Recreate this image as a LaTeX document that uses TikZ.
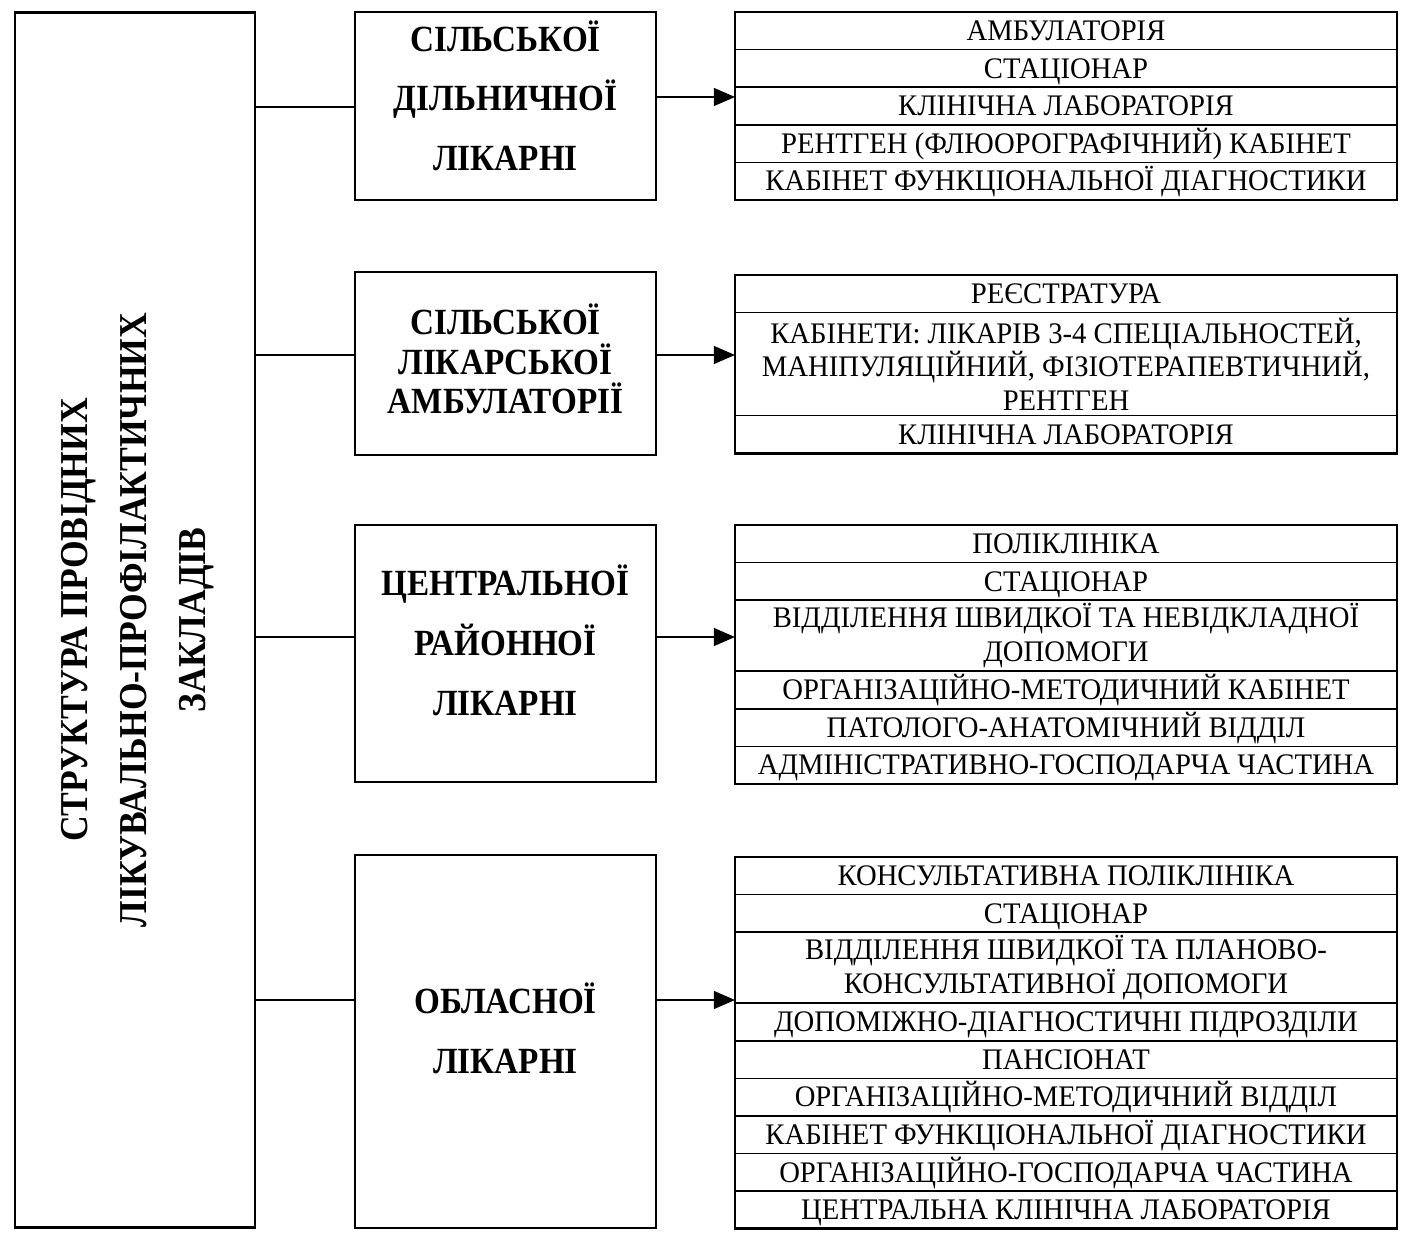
\documentclass[tikz,border=0pt]{standalone}
\usepackage{fontspec}
\usepackage{graphicx}
\setmainfont{Liberation Serif}
\newfontfamily\headfont[FakeStretch=0.9]{Liberation Serif}
\newfontfamily\listfont[FakeStretch=0.96]{Liberation Serif}
\usetikzlibrary{arrows.meta, positioning}

\tikzset{
  bigbox/.style={draw, line width=1.6pt, minimum width=4.8cm, minimum height=24.32cm, inner sep=0pt, outer sep=0pt},
  hospbox/.style={draw, line width=1.6pt, minimum width=6.02cm, align=center, inner sep=0pt, outer sep=0pt, font=\headfont\bfseries},
  row/.style={draw, line width=0.9pt, minimum width=13.24cm, minimum height=0.752cm, align=center, inner sep=0pt, outer sep=0pt,
    text height=11pt, text depth=0pt, font=\listfont\fontsize{17}{19}\selectfont},
  multi/.style={text height={}, text depth={}},
  frame/.style={line width=1.6pt},
  conn/.style={line width=1.3pt},
  arr/.style={line width=1.3pt, -{Triangle[length=12pt, width=10pt]}}
}

\begin{document}
\begin{tikzpicture}[x=0.02cm, y=-0.02cm]
\useasboundingbox (0,0) rectangle (1403,1236);
% main block
\node[bigbox] (main) at (135,620) {\rotatebox{90}{\headfont\bfseries\fontsize{22.5}{33.5}\selectfont
  \begin{tabular}{c}СТРУКТУРА ПРОВІДНИХ\\ ЛІКУВАЛЬНО-ПРОФІЛАКТИЧНИХ\\ ЗАКЛАДІВ\end{tabular}}};
% hospitals
\node[hospbox, minimum height=3.76cm, text depth=12pt, font=\headfont\bfseries\fontsize{21}{34}\selectfont] (hosp1) at (505.5,106) {СІЛЬСЬКОЇ\\ ДІЛЬНИЧНОЇ\\ ЛІКАРНІ};
\node[hospbox, minimum height=3.66cm, text depth=5pt, font=\headfont\bfseries\fontsize{21}{22.5}\selectfont] (hosp2) at (505.5,363.5) {СІЛЬСЬКОЇ\\ ЛІКАРСЬКОЇ\\ АМБУЛАТОРІЇ};
\node[hospbox, minimum height=5.14cm, text depth=15pt, font=\headfont\bfseries\fontsize{21}{34}\selectfont] (hosp3) at (505.5,653.5) {ЦЕНТРАЛЬНОЇ\\ РАЙОННОЇ\\ ЛІКАРНІ};
\node[hospbox, minimum height=7.46cm, text depth=15pt, font=\headfont\bfseries\fontsize{21}{34}\selectfont] (hosp4) at (505.5,1041.5) {ОБЛАСНОЇ\\ ЛІКАРНІ};
% list 1
\node[row, anchor=north] (a1) at (1066,12) {АМБУЛАТОРІЯ};
\node[row, below=0pt of a1] (a2) {СТАЦІОНАР};
\node[row, below=0pt of a2] (a3) {КЛІНІЧНА ЛАБОРАТОРІЯ};
\node[row, below=0pt of a3] (a4) {РЕНТГЕН (ФЛЮОРОГРАФІЧНИЙ) КАБІНЕТ};
\node[row, below=0pt of a4] (a5) {КАБІНЕТ ФУНКЦІОНАЛЬНОЇ ДІАГНОСТИКИ};
\draw[frame] (a1.north west) rectangle (a5.south east);
% list 2
\node[row, anchor=north] (b1) at (1066,275) {РЕЄСТРАТУРА};
\node[row, multi, below=0pt of b1, minimum height=2.06cm] (b2) {КАБІНЕТИ: ЛІКАРІВ 3-4 СПЕЦІАЛЬНОСТЕЙ,\\ МАНІПУЛЯЦІЙНИЙ, ФІЗІОТЕРАПЕВТИЧНИЙ,\\ РЕНТГЕН};
\node[row, below=0pt of b2] (b3) {КЛІНІЧНА ЛАБОРАТОРІЯ};
\draw[frame] (b1.north west) rectangle (b3.south east);
% list 3
\node[row, anchor=north] (c1) at (1066,525) {ПОЛІКЛІНІКА};
\node[row, below=0pt of c1] (c2) {СТАЦІОНАР};
\node[row, multi, below=0pt of c2, minimum height=1.42cm] (c3) {ВІДДІЛЕННЯ ШВИДКОЇ ТА НЕВІДКЛАДНОЇ\\ ДОПОМОГИ};
\node[row, below=0pt of c3] (c4) {ОРГАНІЗАЦІЙНО-МЕТОДИЧНИЙ КАБІНЕТ};
\node[row, below=0pt of c4] (c5) {ПАТОЛОГО-АНАТОМІЧНИЙ ВІДДІЛ};
\node[row, below=0pt of c5] (c6) {АДМІНІСТРАТИВНО-ГОСПОДАРЧА ЧАСТИНА};
\draw[frame] (c1.north west) rectangle (c6.south east);
% list 4
\node[row, anchor=north] (d1) at (1066,857) {КОНСУЛЬТАТИВНА ПОЛІКЛІНІКА};
\node[row, below=0pt of d1] (d2) {СТАЦІОНАР};
\node[row, multi, below=0pt of d2, minimum height=1.42cm] (d3) {ВІДДІЛЕННЯ ШВИДКОЇ ТА ПЛАНОВО-\\ КОНСУЛЬТАТИВНОЇ ДОПОМОГИ};
\node[row, below=0pt of d3] (d4) {ДОПОМІЖНО-ДІАГНОСТИЧНІ ПІДРОЗДІЛИ};
\node[row, below=0pt of d4] (d5) {ПАНСІОНАТ};
\node[row, below=0pt of d5] (d6) {ОРГАНІЗАЦІЙНО-МЕТОДИЧНИЙ ВІДДІЛ};
\node[row, below=0pt of d6] (d7) {КАБІНЕТ ФУНКЦІОНАЛЬНОЇ ДІАГНОСТИКИ};
\node[row, below=0pt of d7] (d8) {ОРГАНІЗАЦІЙНО-ГОСПОДАРЧА ЧАСТИНА};
\node[row, below=0pt of d8] (d9) {ЦЕНТРАЛЬНА КЛІНІЧНА ЛАБОРАТОРІЯ};
\draw[frame] (d1.north west) rectangle (d9.south east);
% connectors
\draw[conn] (main.east |- 0,107) -- (hosp1.west |- 0,107);
\draw[conn] (main.east |- 0,355) -- (hosp2.west |- 0,355);
\draw[conn] (main.east |- 0,637) -- (hosp3.west |- 0,637);
\draw[conn] (main.east |- 0,1000) -- (hosp4.west |- 0,1000);
\draw[arr] (hosp1.east |- 0,97) -- (a1.west |- 0,97);
\draw[arr] (hosp2.east |- 0,355) -- (b1.west |- 0,355);
\draw[arr] (hosp3.east |- 0,637) -- (c1.west |- 0,637);
\draw[arr] (hosp4.east |- 0,1000) -- (d1.west |- 0,1000);
\end{tikzpicture}
\end{document}
